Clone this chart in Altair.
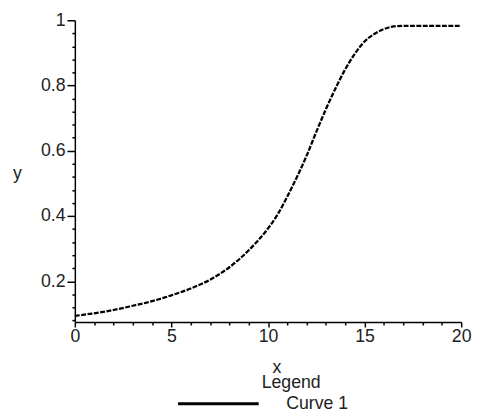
import altair as alt
import pandas as pd

# Curve values
x_vals = [0, 1, 2, 3, 4, 5, 6, 7, 8, 9, 10, 10.5, 11, 11.5, 12, 12.5, 13, 13.5, 14, 14.5, 15, 15.5, 16, 16.5, 17, 20]
y_vals = [0.094, 0.102, 0.112, 0.125, 0.139, 0.157, 0.178, 0.205, 0.243, 0.295, 0.362, 0.405, 0.46, 0.52,
          0.585, 0.658, 0.728, 0.792, 0.85, 0.898, 0.935, 0.958, 0.973, 0.981, 0.983, 0.983]
series_name = "Curve 1"

# Axis ticks
x_major = [0, 5, 10, 15, 20]
x_minor = [1, 2, 3, 4, 6, 7, 8, 9, 11, 12, 13, 14, 16, 17, 18, 19]
y_major = [0.2, 0.4, 0.6, 0.8, 1.0]
y_minor = [0.08, 0.12, 0.16, 0.24, 0.28, 0.32, 0.36, 0.44, 0.48, 0.52, 0.56,
           0.64, 0.68, 0.72, 0.76, 0.84, 0.88, 0.92, 0.96]
x_domain = [0, 20]
y_domain = [0.075, 1.0]

df = pd.DataFrame({"x": x_vals, "y": y_vals, "series": [series_name] * len(x_vals)})

FONT = "Liberation Sans"
FS = 18
INK = "#222222"

xscale = alt.Scale(domain=x_domain, nice=False, zero=False)
yscale = alt.Scale(domain=y_domain, nice=False, zero=False)

main = alt.Chart(df).mark_line(
    strokeWidth=2.3, strokeDash=[5, 1.5], interpolate="monotone"
).encode(
    x=alt.X("x:Q", scale=xscale, axis=alt.Axis(
        values=x_major, orient="bottom", tickSize=5, labelPadding=1, format="d",
        title="x", titleX=205, titleY=51, titleBaseline="alphabetic",
        titleFont=FONT, titleFontSize=FS, titleFontWeight="normal", titleColor=INK,
        labelFont=FONT, labelFontSize=FS, labelColor=INK,
        domainColor="black", tickColor="black", domainWidth=1.5, tickWidth=1.5,
        grid=False, labelFlush=False)),
    y=alt.Y("y:Q", scale=yscale, axis=alt.Axis(
        values=y_major, orient="left", tickSize=8, labelPadding=2, format="~g",
        title="y", titleAngle=0, titleX=-59, titleY=156, titleAlign="center",
        titleBaseline="middle",
        titleFont=FONT, titleFontSize=FS, titleFontWeight="normal", titleColor=INK,
        labelFont=FONT, labelFontSize=FS, labelColor=INK,
        domainColor="black", tickColor="black", domainWidth=1.5, tickWidth=1.5,
        grid=False, labelFlush=False)),
    color=alt.Color("series:N", scale=alt.Scale(range=["black"]), legend=alt.Legend(
        title="Legend", orient="none", legendX=101, legendY=360,
        symbolType="M-1,0H15.4", symbolSize=100, symbolStrokeWidth=3,
        symbolDash=[1, 0], symbolFillColor="transparent", symbolStrokeColor="black",
        labelOffset=96, labelFont=FONT, labelFontSize=FS, labelColor=INK,
        titleFont=FONT, titleFontSize=FS, titleFontWeight="normal", titleColor=INK,
        titleAnchor="middle", titleAlign="left", titlePadding=3, padding=0)),
)

minor = alt.Chart(df).mark_line(opacity=0).encode(
    x=alt.X("x:Q", scale=xscale, axis=alt.Axis(
        values=x_minor, orient="bottom", tickSize=3, labels=False, domain=False,
        title=None, tickColor="black", tickWidth=1.5, grid=False)),
    y=alt.Y("y:Q", scale=yscale, axis=alt.Axis(
        values=y_minor, orient="left", tickSize=3, labels=False, domain=False,
        title=None, tickColor="black", tickWidth=1.5, grid=False)),
)

chart = alt.layer(main, minor).resolve_axis(x="independent", y="independent").properties(
    width=393, height=307,
    padding={"left": 68, "top": 9, "right": 11, "bottom": 88},
    autosize="none",
).configure_view(stroke=None)

chart.save("out.html", embed_options={"renderer": "svg", "actions": False})
